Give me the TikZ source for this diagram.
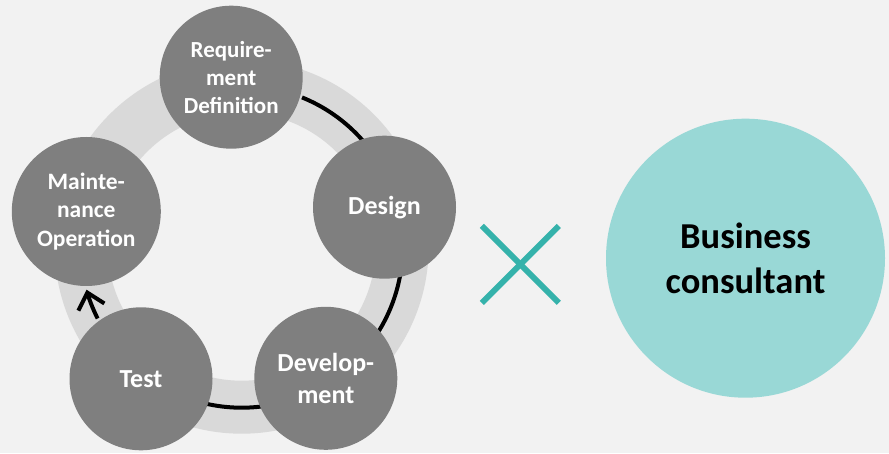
\documentclass[tikz,border=0pt]{standalone}
\usepackage{fontspec}
\setmainfont{Carlito}
\usetikzlibrary{arrows.meta}
\definecolor{bgc}{HTML}{F2F2F2}
\definecolor{ringc}{HTML}{D9D9D9}
\definecolor{nodec}{HTML}{7F7F7F}
\definecolor{tealc}{HTML}{35B2AB}
\definecolor{lteal}{HTML}{99D8D6}
\begin{document}
\begin{tikzpicture}[x=1pt,y=1pt,
  phase/.style={circle, fill=nodec, minimum size=143pt, inner sep=0pt, text=white, align=center, font=\bfseries\fontsize{23}{28}\selectfont},
  bigtext/.style={font=\bfseries\fontsize{26}{31.7}\selectfont},
  flow/.style={line width=4pt, black},
  cross/.style={line width=5.8pt, tealc},
  bigc/.style={circle, fill=lteal, minimum size=279pt, inner sep=0pt, text=black, align=center, font=\bfseries\fontsize{36.5}{45}\selectfont}]
\fill[bgc] (0,0) rectangle (889,453);
\useasboundingbox (0,0) rectangle (889,453);
\coordinate (C) at (241.7,206.3);
\draw[ringc, line width=53pt] (C) circle[radius=160.5];
\draw[flow] (C) ++(68:161) arc[start angle=68, end angle=30, radius=161];
\draw[flow] (C) ++(-5:161) arc[start angle=-5, end angle=-40, radius=161];
\draw[flow] (C) ++(-75:161) arc[start angle=-75, end angle=-110, radius=161];
\node[phase] (req) at (231.2,375.8) {Require-\\ment\\Definition};
\node[phase, bigtext] (des) at (384.5,245.8) {Design};
\node[phase, bigtext] (dev) at (325.8,74.7) {Develop-\\ment};
\node[phase, bigtext] (tst) at (141,74.2) {Test};
\node[phase, minimum size=149pt, font=\bfseries\fontsize{23.5}{28.7}\selectfont] (mnt) at (86.3,241.5) {Mainte-\\nance\\Operation};
\draw[flow, -{Straight Barb[length=15pt,width=27pt]}] (C) ++(206.5:161) arc[start angle=206.5, end angle=195.5, radius=161];
\coordinate (X) at (520.3,188.6);
\draw[cross] (X) ++(-38.5,38.5) -- ++(77,-77);
\draw[cross] (X) ++(38.5,38.5) -- ++(-77,-77);
\node[bigc] (bc) at (745.5,194.8) {Business\\consultant};
\end{tikzpicture}
\end{document}
